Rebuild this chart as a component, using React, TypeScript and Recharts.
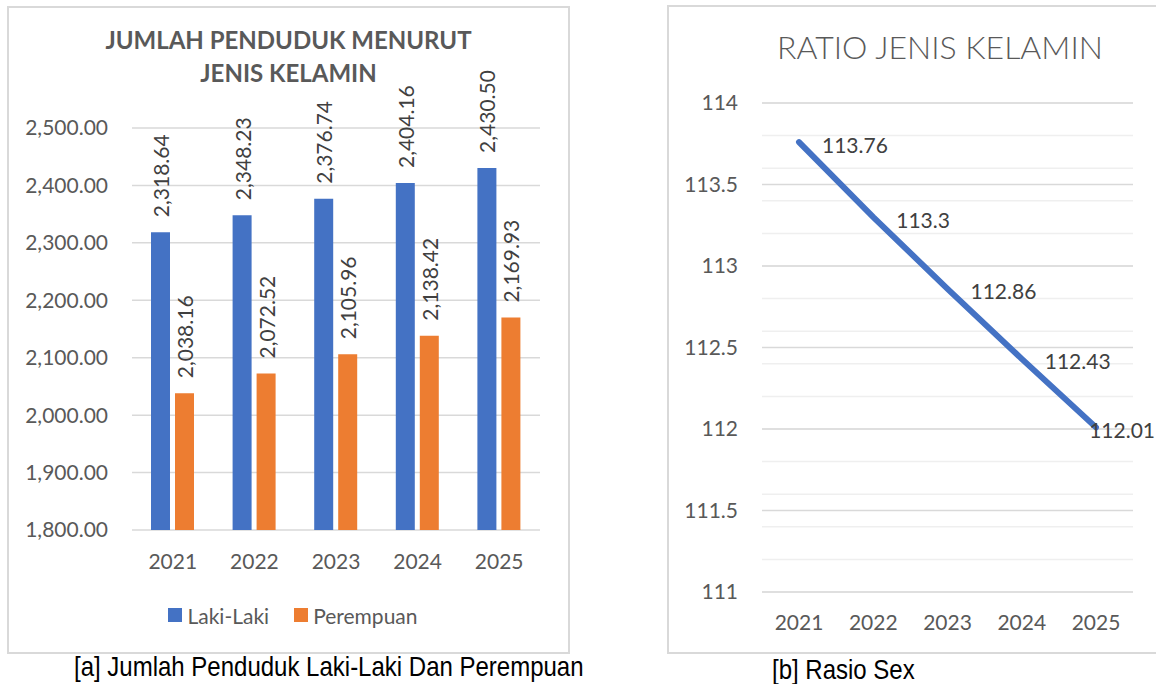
import React from "react";
import {
  Bar,
  BarChart,
  CartesianGrid,
  LabelList,
  Legend,
  Line,
  LineChart,
  XAxis,
  YAxis,
} from "recharts";

const YEARS = ["2021", "2022", "2023", "2024", "2025"];
const LAKI_LAKI = [2318.64, 2348.23, 2376.74, 2404.16, 2430.5];
const PEREMPUAN = [2038.16, 2072.52, 2105.96, 2138.42, 2169.93];
const POP_TICKS = [1800, 1900, 2000, 2100, 2200, 2300, 2400, 2500];

const RATIO = [113.76, 113.3, 112.86, 112.43, 112.01];
const RATIO_TICKS = [111, 111.5, 112, 112.5, 113, 113.5, 114];

const FONT = "Lato, 'Open Sans', sans-serif";
const CAPTION_FONT = "'Liberation Sans', Arial, sans-serif";
const BLUE = "#4472C4";
const ORANGE = "#ED7D31";
const GRID = "#D9D9D9";
const MINOR_GRID = "#EFEFEF";
const AXIS_TEXT = "#595959";
const LABEL_TEXT = "#404040";

const POP_W = 575;
const RATIO_W = 516;

// minor gridlines every 0.1 on the ratio axis
const RATIO_MINOR = Array.from({ length: 31 }, (_, i) => +(111 + i * 0.1).toFixed(1));

const popData = YEARS.map((year, i) => ({
  year,
  laki: LAKI_LAKI[i],
  perempuan: PEREMPUAN[i],
}));

const ratioData = YEARS.map((year, i) => ({ year, ratio: RATIO[i] }));

function fmt2(v: number) {
  return v.toLocaleString("en-US", {
    minimumFractionDigits: 2,
    maximumFractionDigits: 2,
  });
}

function VerticalLabel(props: any) {
  const vb = props.viewBox ?? props;
  const x = vb.x ?? props.x;
  const y = vb.y ?? props.y;
  const width = vb.width ?? props.width ?? 0;
  const cx = x + width / 2;
  const cy = y - 15;
  return (
    <text
      x={cx}
      y={cy}
      transform={`rotate(-90 ${cx} ${cy})`}
      textAnchor="start"
      dominantBaseline="central"
      fontFamily={FONT}
      fontSize={21}
      fill={LABEL_TEXT}
    >
      {fmt2(Number(props.value))}
    </text>
  );
}

function RatioLabel(props: any) {
  const vb = props.viewBox ?? props;
  const x = vb.x ?? props.x;
  const y = vb.y ?? props.y;
  const text = String(props.value);
  const est = text.length * 10.8;
  const tx = Math.min(x + 23, RATIO_W - 2 - est);
  return (
    <text
      x={tx}
      y={y + 2}
      dominantBaseline="central"
      fontFamily={FONT}
      fontSize={21}
      fill={LABEL_TEXT}
    >
      {text}
    </text>
  );
}

function PopLegend({ payload }: any) {
  return (
    <div
      style={{
        display: "flex",
        justifyContent: "center",
        alignItems: "center",
        gap: 25,
        height: 26,
        fontFamily: FONT,
        fontSize: 21,
        color: AXIS_TEXT,
      }}
    >
      {(payload ?? []).map((p: any) => (
        <span key={p.value} style={{ display: "flex", alignItems: "center" }}>
          <span
            style={{
              display: "inline-block",
              width: 14,
              height: 14,
              background: p.color,
              marginRight: 5,
            }}
          />
          {p.value}
        </span>
      ))}
    </div>
  );
}

const tickStyle = { fill: AXIS_TEXT, fontSize: 21, fontFamily: FONT };

const captionStyle: React.CSSProperties = {
  position: "absolute",
  fontFamily: CAPTION_FONT,
  fontSize: 28,
  lineHeight: "32px",
  color: "#000000",
  whiteSpace: "nowrap",
  transform: "scaleX(0.857)",
  transformOrigin: "left center",
};

export default function App() {
  return (
    <div
      style={{
        position: "absolute",
        left: 0,
        top: 0,
        width: 1156,
        height: 684,
        background: "#ffffff",
        overflow: "hidden",
      }}
    >
      {/* [a] population by sex */}
      <div
        style={{
          position: "absolute",
          left: 7,
          top: 6,
          width: 563,
          height: 648,
          border: `2px solid ${GRID}`,
          boxSizing: "border-box",
        }}
      />
      <div
        style={{
          position: "absolute",
          left: 7,
          top: 23,
          width: 563,
          textAlign: "center",
          fontFamily: FONT,
          fontWeight: 700,
          fontSize: 24,
          lineHeight: "33px",
          color: AXIS_TEXT,
        }}
      >
        JUMLAH PENDUDUK MENURUT
        <br />
        JENIS KELAMIN
      </div>
      <div style={{ position: "absolute", left: 0, top: 0 }}>
        <BarChart
          width={POP_W}
          height={684}
          data={popData}
          margin={{ top: 128, right: 35, bottom: 56, left: 32 }}
          barSize={19}
          barGap={5}
        >
          <CartesianGrid vertical={false} stroke={GRID} strokeWidth={1.5} />
          <XAxis
            dataKey="year"
            height={72}
            axisLine={false}
            tickLine={false}
            tickMargin={18}
            tick={tickStyle}
          />
          <YAxis
            width={100}
            domain={[1800, 2500]}
            ticks={POP_TICKS}
            allowDataOverflow
            axisLine={false}
            tickLine={false}
            tickMargin={18}
            tick={tickStyle}
            tickFormatter={(v: number) => fmt2(v)}
          />
          <Legend
            verticalAlign="bottom"
            height={26}
            content={<PopLegend />}
            wrapperStyle={{ left: 39 }}
          />
          <Bar dataKey="laki" name="Laki-Laki" fill={BLUE} isAnimationActive={false}>
            <LabelList dataKey="laki" content={<VerticalLabel />} />
          </Bar>
          <Bar
            dataKey="perempuan"
            name="Perempuan"
            fill={ORANGE}
            isAnimationActive={false}
          >
            <LabelList dataKey="perempuan" content={<VerticalLabel />} />
          </Bar>
        </BarChart>
      </div>
      <div style={{ ...captionStyle, left: 74, top: 651 }}>
        [a] Jumlah Penduduk Laki-Laki Dan Perempuan
      </div>

      {/* [b] sex ratio */}
      <div
        style={{
          position: "absolute",
          left: 667,
          top: 5,
          width: 600,
          height: 649,
          border: `2px solid ${GRID}`,
          boxSizing: "border-box",
        }}
      />
      <div
        style={{
          position: "absolute",
          left: 640,
          top: 27,
          width: 600,
          textAlign: "center",
          fontFamily: FONT,
          fontWeight: 300,
          fontSize: 32,
          lineHeight: "40px",
          color: AXIS_TEXT,
        }}
      >
        RATIO JENIS KELAMIN
      </div>
      <div style={{ position: "absolute", left: 640, top: 0 }}>
        <LineChart
          width={RATIO_W}
          height={684}
          data={ratioData}
          margin={{ top: 103, right: 23, bottom: 52, left: 62 }}
        >
          <CartesianGrid
            vertical={false}
            stroke={MINOR_GRID}
            strokeWidth={1.5}
            horizontalValues={RATIO_MINOR}
          />
          <CartesianGrid vertical={false} stroke={GRID} strokeWidth={1.5} />
          <XAxis
            dataKey="year"
            height={40}
            padding={{ left: 37, right: 37 }}
            axisLine={false}
            tickLine={false}
            tickMargin={17}
            tick={tickStyle}
          />
          <YAxis
            width={60}
            domain={[111, 114]}
            ticks={RATIO_TICKS}
            axisLine={false}
            tickLine={false}
            tickMargin={18}
            tick={tickStyle}
          />
          <Line
            type="linear"
            dataKey="ratio"
            stroke={BLUE}
            strokeWidth={6}
            strokeLinecap="round"
            dot={false}
            isAnimationActive={false}
          >
            <LabelList dataKey="ratio" content={<RatioLabel />} />
          </Line>
        </LineChart>
      </div>
      <div style={{ ...captionStyle, left: 772, top: 654 }}>[b] Rasio Sex</div>
    </div>
  );
}
